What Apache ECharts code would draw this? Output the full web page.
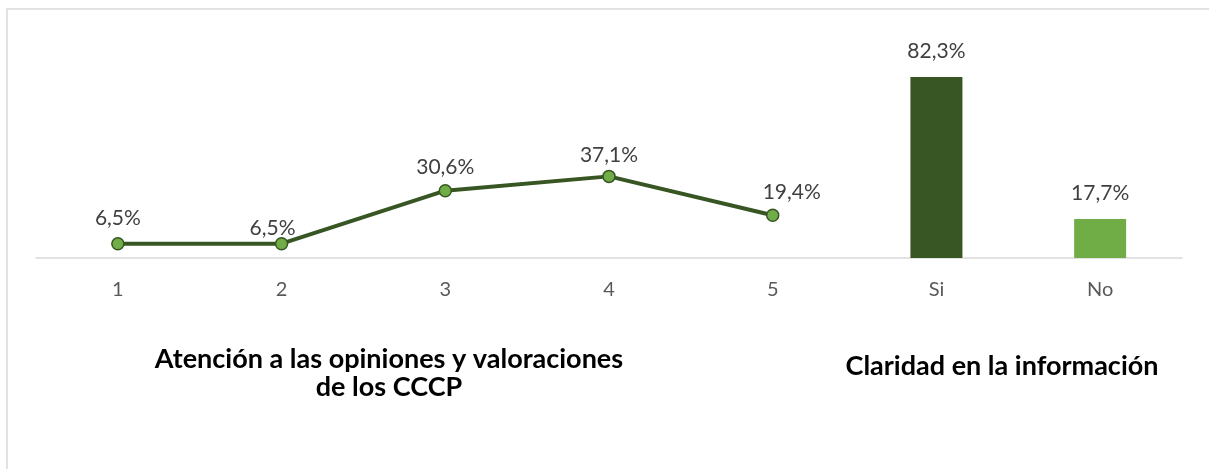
<!DOCTYPE html>
<html>
<head>
<meta charset="utf-8">
<style>
  html, body { margin: 0; padding: 0; background: #ffffff; }
  #chart { width: 1209px; height: 469px; }
</style>
<script src="https://cdn.jsdelivr.net/npm/echarts@6/dist/echarts.min.js"></script>
</head>
<body>
<div id="chart"></div>
<script>
// Categories along the shared x axis: rating scale 1-5, then yes / no
const categories = ['1', '2', '3', '4', '5', 'Si', 'No'];
// Percentages for the 1-5 rating (line)
const ratingValues = [6.5, 6.5, 30.6, 37.1, 19.4];
// Percentages for the yes / no question (bars)
const claridadValues = [82.3, 17.7];
// Section captions under the axis
const captionRating = 'Atención a las opiniones y valoraciones\nde los CCCP';
const captionClaridad = 'Claridad en la información';

const DARK = '#375623';
const LIGHT = '#70AD47';
const FONT = 'Lato, "Liberation Sans", sans-serif';

const fmt = v => v.toFixed(1).replace('.', ',') + '%';

// Line covers the first five categories, bars the last two
const lineData = categories.map((c, i) => i < ratingValues.length ? ratingValues[i] : '-');
const barData = categories.map((c, i) => {
  const j = i - ratingValues.length;
  return j >= 0 ? claridadValues[j] : '-';
});

// Small nudges for a couple of line labels
const lineLabelNudge = { 0: [0, -2], 1: [-9, 8], 3: [0, 2], 4: [19, 0] };

const chart = echarts.init(document.getElementById('chart'), null, { renderer: 'canvas' });
chart.setOption({
  backgroundColor: '#ffffff',
  animation: false,
  grid: { left: 36, right: 27, top: 38, bottom: 211, containLabel: false },
  xAxis: {
    type: 'category',
    data: categories,
    boundaryGap: true,
    axisLine: { show: true, lineStyle: { color: '#D9D9D9', width: 1.5 } },
    axisTick: { show: false },
    axisLabel: { color: '#595959', fontSize: 20, fontFamily: FONT, margin: 22 },
    splitLine: { show: false }
  },
  yAxis: {
    type: 'value',
    min: 0,
    max: 100,
    show: false
  },
  series: [
    {
      type: 'line',
      data: lineData.map((v, i) => {
        const n = lineLabelNudge[i];
        return n ? { value: v, label: { offset: n } } : v;
      }),
      lineStyle: { color: DARK, width: 4 },
      symbol: 'circle',
      symbolSize: 12,
      itemStyle: { color: LIGHT, borderColor: DARK, borderWidth: 1.5 },
      label: {
        show: true,
        position: 'top',
        distance: 6,
        color: '#404040',
        fontSize: 21,
        fontFamily: FONT,
        lineHeight: 21,
        formatter: p => fmt(p.value)
      },
      z: 3
    },
    {
      type: 'bar',
      data: barData,
      barWidth: 52,
      itemStyle: {
        color: p => (p.name === 'Si' ? DARK : LIGHT)
      },
      label: {
        show: true,
        position: 'top',
        distance: 15,
        color: '#404040',
        fontSize: 21,
        fontFamily: FONT,
        lineHeight: 21,
        formatter: p => fmt(p.value)
      }
    }
  ],
  graphic: [
    {
      type: 'rect',
      shape: { x: 7, y: 9, width: 1230, height: 500 },
      style: { fill: null, stroke: '#D9D9D9', lineWidth: 1.5 },
      silent: true,
      z: -1
    },
    {
      type: 'text',
      x: 389,
      y: 373,
      style: {
        text: captionRating,
        align: 'center',
        verticalAlign: 'middle',
        fill: '#000000',
        font: 'bold 27px ' + FONT,
        lineHeight: 28
      }
    },
    {
      type: 'text',
      x: 1002,
      y: 366,
      style: {
        text: captionClaridad,
        align: 'center',
        verticalAlign: 'middle',
        fill: '#000000',
        font: 'bold 27px ' + FONT
      }
    }
  ]
});
</script>
</body>
</html>
